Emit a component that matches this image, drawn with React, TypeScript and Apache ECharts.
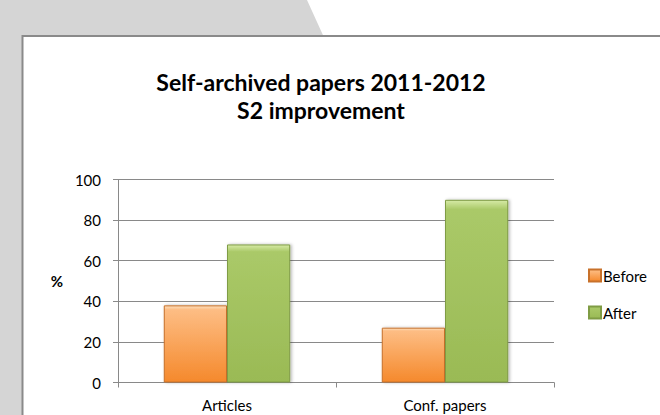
import React, { useEffect, useRef } from "react";
import * as echarts from "echarts";

const categories = ["Articles", "Conf. papers"];
const beforeValues = [38, 27];
const afterValues = [68, 90];
const seriesNames = ["Before", "After"];
const titleLines = ["Self-archived papers 2011-2012", "S2 improvement"];
const yTicks = { min: 0, max: 100, interval: 20 };

const FONT = "Lato, 'Open Sans', sans-serif";

export default function App() {
  const ref = useRef<HTMLDivElement>(null);
  useEffect(() => {
    if (!ref.current) return;
    const chart = echarts.init(ref.current, undefined, { renderer: "svg" });
    const orange = new echarts.graphic.LinearGradient(0, 0, 0, 1, [
      { offset: 0, color: "#fde0bf" },
      { offset: 0.05, color: "#fdbd84" },
      { offset: 1, color: "#f5892c" },
    ]);
    const green = new echarts.graphic.LinearGradient(0, 0, 0, 1, [
      { offset: 0, color: "#d6eaa6" },
      { offset: 0.05, color: "#aac968" },
      { offset: 1, color: "#9aba55" },
    ]);
    chart.setOption({
      animation: false,
      backgroundColor: "#ffffff",
      textStyle: { fontFamily: FONT },
      graphic: [
        {
          type: "polygon",
          z: -10,
          shape: { points: [[0, 0], [307, 0], [327, 44], [0, 44]] },
          style: { fill: "#d5d5d5" },
          silent: true,
        },
        {
          type: "rect",
          z: -10,
          shape: { x: 0, y: 0, width: 22, height: 415 },
          style: { fill: "#d5d5d5" },
          silent: true,
        },
        {
          type: "rect",
          z: -9,
          shape: { x: 22.5, y: 36, width: 700, height: 420 },
          style: { fill: "#ffffff", stroke: "#8a8a8a", lineWidth: 2 },
          silent: true,
        },
      ],
      title: {
        text: titleLines.join("\n"),
        left: 321,
        top: 68,
        padding: 0,
        textAlign: "center",
        textStyle: {
          fontFamily: FONT,
          fontWeight: "bold",
          fontSize: 23,
          lineHeight: 28,
          color: "#000",
        },
      },
      legend: {
        orient: "vertical",
        left: 588,
        top: 268,
        padding: 0,
        itemWidth: 12,
        itemHeight: 12,
        itemGap: 22,
        icon: "rect",
        data: seriesNames,
        textStyle: { fontFamily: FONT, fontSize: 15, color: "#000", padding: [0, 0, 0, -3] },
      },
      grid: { left: 118, top: 179.5, width: 436, height: 203, containLabel: false },
      xAxis: {
        type: "category",
        data: categories,
        axisLine: { lineStyle: { color: "#898989", width: 1 } },
        axisTick: { show: true, length: 5, lineStyle: { color: "#898989" } },
        axisLabel: { fontFamily: FONT, fontSize: 15, color: "#000", margin: 15 },
        splitLine: { show: false },
      },
      yAxis: {
        type: "value",
        min: yTicks.min,
        max: yTicks.max,
        interval: yTicks.interval,
        name: "%",
        nameLocation: "middle",
        nameRotate: 0,
        nameGap: 55,
        nameTextStyle: { fontFamily: FONT, fontSize: 15, fontWeight: "bold", color: "#000" },
        axisLine: { show: true, lineStyle: { color: "#898989", width: 1 } },
        axisTick: { show: true, length: 5, lineStyle: { color: "#898989" } },
        axisLabel: { fontFamily: FONT, fontSize: 15, color: "#000", margin: 17 },
        splitLine: { show: true, lineStyle: { color: "#898989", width: 1 } },
      },
      series: [
        {
          name: seriesNames[0],
          type: "bar",
          data: beforeValues,
          barGap: "0%",
          barCategoryGap: "42%",
          itemStyle: {
            color: orange,
            borderColor: "#c8712a",
            borderWidth: 1,
            shadowColor: "rgba(0,0,0,0.3)",
            shadowBlur: 3,
            shadowOffsetX: 1.5,
            shadowOffsetY: 0,
          },
        },
        {
          name: seriesNames[1],
          type: "bar",
          data: afterValues,
          barGap: "0%",
          barCategoryGap: "42%",
          itemStyle: {
            color: green,
            borderColor: "#7f9c44",
            borderWidth: 1,
            shadowColor: "rgba(0,0,0,0.3)",
            shadowBlur: 3,
            shadowOffsetX: 1.5,
            shadowOffsetY: 0,
          },
        },
      ],
    });
    return () => chart.dispose();
  }, []);
  return (
    <div
      ref={ref}
      style={{ position: "fixed", left: 0, top: 0, width: 660, height: 415 }}
    />
  );
}
